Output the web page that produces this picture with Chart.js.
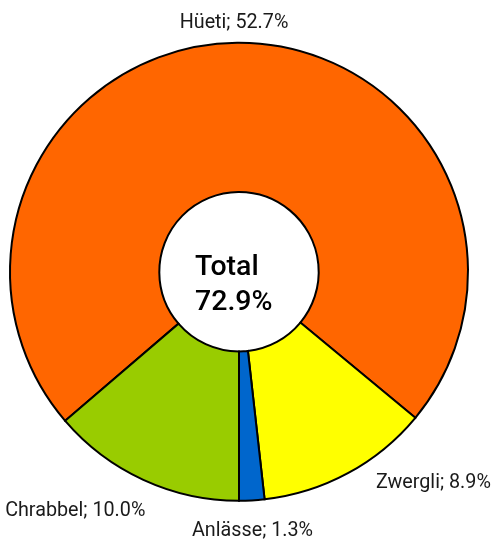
<!DOCTYPE html>
<html>
<head>
<meta charset="utf-8">
<script src="https://cdn.jsdelivr.net/npm/chart.js@4.4.0/dist/chart.umd.min.js"></script>
<style>
html,body{margin:0;padding:0;background:#fff;}
#wrap{width:493px;height:541px;position:relative;}
</style>
</head>
<body>
<div id="wrap"><canvas id="c" width="493" height="541"></canvas></div>
<script>
const categories = ["Hüeti", "Zwergli", "Anlässe", "Chrabbel"];
const values = [52.7, 8.9, 1.3, 10.0];
const colors = ["#FF6600", "#FFFF00", "#0066CC", "#99CC00"];
const totalLabel = ["Total", "72.9%"];

const total = values.reduce((a, b) => a + b, 0);
// Rotation so that the segment sequence ends with Anlässe finishing at the bottom
const beforeEnd = values.slice(0, 3).reduce((a, b) => a + b, 0);
const rotation = 180 - beforeEnd / total * 360;

function drawScaled(ctx, txt, x, y, align, sx) {
  ctx.save();
  ctx.translate(x, y);
  ctx.scale(sx, 1);
  ctx.textAlign = align;
  ctx.fillText(txt, 0, 0);
  ctx.restore();
}

const labelPlugin = {
  id: 'outLabels',
  afterDatasetsDraw(chart) {
    const ctx = chart.ctx;
    const meta = chart.getDatasetMeta(0);
    ctx.save();
    ctx.font = '21px Roboto';
    ctx.fillStyle = '#1a1a1a';
    ctx.textBaseline = 'alphabetic';
    const offs = [[-3, -15, 'center'], [28, 15, 'left'], [0.7, 35.6, 'center'], [2, 36, 'right']];
    meta.data.forEach((arc, i) => {
      const mid = (arc.startAngle + arc.endAngle) / 2;
      const r = arc.outerRadius;
      const txt = categories[i] + '; ' + values[i].toFixed(1) + '%';
      const x = arc.x + Math.cos(mid) * r + offs[i][0];
      const y = arc.y + Math.sin(mid) * r + offs[i][1];
      drawScaled(ctx, txt, x, y, offs[i][2], 0.94);
    });
    const a0 = meta.data[0];
    ctx.font = '500 28.5px Roboto';
    ctx.fillStyle = '#000';
    ctx.textBaseline = 'alphabetic';
    drawScaled(ctx, totalLabel[0], a0.x - 44, a0.y + 3.5, 'left', 1);
    drawScaled(ctx, totalLabel[1], a0.x - 44, a0.y + 38.5, 'left', 1);
    ctx.restore();
  }
};

new Chart(document.getElementById('c'), {
  type: 'doughnut',
  data: {
    labels: categories,
    datasets: [{
      data: values,
      backgroundColor: colors,
      borderColor: '#000',
      borderWidth: 2,
      borderJoinStyle: 'miter'
    }]
  },
  options: {
    responsive: false,
    animation: false,
    rotation: rotation,
    cutout: '34.8%',
    layout: { padding: { left: 9, right: 24, top: 41.5, bottom: 39 } },
    plugins: { legend: { display: false }, tooltip: { enabled: false } }
  },
  plugins: [labelPlugin]
});
</script>
</body>
</html>
